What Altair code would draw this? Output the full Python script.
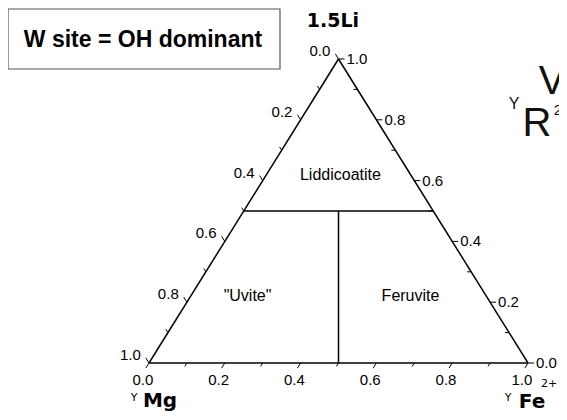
import altair as alt
import pandas as pd

# ---------------- data ----------------
# ternary axes: Li (top), Mg (bottom-left), Fe (bottom-right)
tick_values = [0.0, 0.1, 0.2, 0.3, 0.4, 0.5, 0.6, 0.7, 0.8, 0.9, 1.0]
major_values = [0.0, 0.2, 0.4, 0.6, 0.8, 1.0]
major_labels = ["0.0", "0.2", "0.4", "0.6", "0.8", "1.0"]

# triangle corners (Li, Mg, Fe)
corner_li = [1.0, 0.0, 0.0]
corner_mg = [0.0, 1.0, 0.0]
corner_fe = [0.0, 0.0, 1.0]

# field boundaries (Li, Mg, Fe) start -> end
bnd_li0 = [0.5, 0.5]
bnd_mg0 = [0.5, 0.25]
bnd_fe0 = [0.0, 0.25]
bnd_li1 = [0.5, 0.0]
bnd_mg1 = [0.0, 0.5]
bnd_fe1 = [0.5, 0.5]

# field names and their label positions (Li, Mg, Fe)
field_names = ["Liddicoatite", "\"Uvite\"", "Feruvite"]
field_li = [0.62, 0.22, 0.22]
field_mg = [0.185, 0.63, 0.20]
field_fe = [0.195, 0.15, 0.58]

box_text = "W site = OH dominant"

# ---------------- layout helpers ----------------
W, H = 551, 404          # plot area (page origin at 8,8)
PX, PY = 379.0, 304.0    # pixels per ternary unit (x, y)
X0, Y0 = 149.0, 363.0    # page position of the Mg corner
XDOM = [(8 - X0) / PX, (8 + W - X0) / PX]
YDOM = [(Y0 - 8 - H) / PY, (Y0 - 8) / PY]


def cart(li, mg, fe):
    return fe + 0.5 * li, li


def P(px, py):
    """page pixel -> data coordinates (for annotations)"""
    return (px - X0) / PX, (Y0 - py) / PY


xs = alt.Scale(domain=XDOM, nice=False, zero=False)
ys = alt.Scale(domain=YDOM, nice=False, zero=False)


def X(f="x"):
    return alt.X(f"{f}:Q", scale=xs, axis=None)


def Y(f="y"):
    return alt.Y(f"{f}:Q", scale=ys, axis=None)


# triangle edges + field boundaries
edges = []
for i in range(3):
    j = (i + 1) % 3
    x0, y0 = cart(corner_li[i], corner_mg[i], corner_fe[i])
    x1, y1 = cart(corner_li[j], corner_mg[j], corner_fe[j])
    edges.append(dict(x=x0, y=y0, x2=x1, y2=y1))
for k in range(len(bnd_li0)):
    x0, y0 = cart(bnd_li0[k], bnd_mg0[k], bnd_fe0[k])
    x1, y1 = cart(bnd_li1[k], bnd_mg1[k], bnd_fe1[k])
    edges.append(dict(x=x0, y=y0, x2=x1, y2=y1))
edges = pd.DataFrame(edges)

# ticks
ticks = []
labels_b, labels_l, labels_r = [], [], []
for v in tick_values:
    major = any(abs(v - m) < 1e-9 for m in major_values)
    L = 6.0 if major else 4.0
    x0, y0 = cart(0.0, 1 - v, v)          # bottom (Fe)
    ticks.append(dict(x=x0, y=y0, x2=x0 - 0.529 * L / PX, y2=y0 - 0.849 * L / PY))
    x0, y0 = cart(1 - v, v, 0.0)          # left (Mg)
    ticks.append(dict(x=x0, y=y0, x2=x0 - 0.529 * L / PX, y2=y0 + 0.849 * L / PY))
    x0, y0 = cart(v, 0.0, 1 - v)          # right (Li)
    if major:
        ticks.append(dict(x=x0, y=y0, x2=x0 + L / PX, y2=y0))
    else:
        ticks.append(dict(x=x0, y=y0, x2=x0 - L / PX, y2=y0))
ticks = pd.DataFrame(ticks)

for v, lab in zip(major_values, major_labels):
    x0, y0 = cart(0.0, 1 - v, v)
    labels_b.append(dict(x=x0 - 0.529 * 6 / PX, y=y0 - 0.849 * 6 / PY, t=lab))
    x0, y0 = cart(1 - v, v, 0.0)
    labels_l.append(dict(x=x0 - 0.529 * 6 / PX, y=y0 + 0.849 * 6 / PY, t=lab))
    x0, y0 = cart(v, 0.0, 1 - v)
    labels_r.append(dict(x=x0 + 6 / PX, y=y0, t=lab))
labels_b = pd.DataFrame(labels_b)
labels_l = pd.DataFrame(labels_l)
labels_r = pd.DataFrame(labels_r)

fields = pd.DataFrame(
    [dict(x=cart(a, b, c)[0], y=cart(a, b, c)[1], t=n)
     for n, a, b, c in zip(field_names, field_li, field_mg, field_fe)]
)

FONT = "Liberation Sans"
BOLD = "DejaVu Sans"

layers = []
layers.append(
    alt.Chart(edges).mark_rule(color="black", strokeWidth=1.5)
    .encode(x=X(), y=Y(), x2="x2:Q", y2="y2:Q")
)
layers.append(
    alt.Chart(ticks).mark_rule(color="black", strokeWidth=1)
    .encode(x=X(), y=Y(), x2="x2:Q", y2="y2:Q")
)
layers.append(
    alt.Chart(labels_b).mark_text(font=FONT, fontSize=15, align="center",
                                  baseline="top", dx=-3, dy=5, color="black")
    .encode(x=X(), y=Y(), text="t:N")
)
layers.append(
    alt.Chart(labels_l).mark_text(font=FONT, fontSize=15, align="right",
                                  baseline="middle", dx=-5, dy=-3, color="black")
    .encode(x=X(), y=Y(), text="t:N")
)
layers.append(
    alt.Chart(labels_r).mark_text(font=FONT, fontSize=15, align="left",
                                  baseline="middle", dx=2, dy=0, color="black")
    .encode(x=X(), y=Y(), text="t:N")
)
layers.append(
    alt.Chart(fields).mark_text(font=FONT, fontSize=16, align="center",
                                baseline="middle", color="black")
    .encode(x=X(), y=Y(), text="t:N")
)

# info box
bx0, by0 = P(8, 9)
bx1, by1 = P(280, 69)
tx, ty = P(143, 40)
box = pd.DataFrame([dict(x=bx0, x2=bx1, y=by0, y2=by1, tx=tx, ty=ty, t=box_text)])
layers.append(
    alt.Chart(box).mark_rect(fill="white", stroke="#555555", strokeWidth=1.2)
    .encode(x=X(), x2="x2:Q", y=Y(), y2="y2:Q")
)
layers.append(
    alt.Chart(box).mark_text(font=FONT, fontSize=23, fontWeight="bold",
                             align="center", baseline="middle", color="black")
    .encode(x=X("tx"), y=Y("ty"), text="t:N")
)

# corner titles
t_li = P(333, 21)
t_mg = P(160, 401)
t_fe = P(532, 402)
titles_bold = pd.DataFrame([
    dict(x=t_li[0], y=t_li[1], t="1.5Li", s=19),
    dict(x=t_mg[0], y=t_mg[1], t="Mg", s=20),
    dict(x=t_fe[0], y=t_fe[1], t="Fe", s=20),
])
layers.append(
    alt.Chart(titles_bold).mark_text(font=BOLD, fontWeight="bold",
                                     align="center", baseline="middle", color="black")
    .encode(x=X(), y=Y(), text="t:N",
            size=alt.Size("s:Q", scale=None, legend=None))
)
s1 = P(134, 398)
s2 = P(508, 398)
s3 = P(549, 384)
sups = pd.DataFrame([
    dict(x=s1[0], y=s1[1], t="Y", s=11),
    dict(x=s2[0], y=s2[1], t="Y", s=11),
    dict(x=s3[0], y=s3[1], t="2+", s=11),
])
layers.append(
    alt.Chart(sups).mark_text(font=BOLD, align="center",
                              baseline="middle", color="black")
    .encode(x=X(), y=Y(), text="t:N",
            size=alt.Size("s:Q", scale=None, legend=None))
)

# partially visible text at the right edge
e1 = P(552, 82)
e2 = P(537, 124)
e3 = P(514, 104)
e4 = P(558, 110)
edge_txt = pd.DataFrame([
    dict(x=e1[0], y=e1[1], t="V", s=40),
    dict(x=e2[0], y=e2[1], t="R", s=40),
    dict(x=e3[0], y=e3[1], t="Y", s=16),
    dict(x=e4[0], y=e4[1], t="2", s=15),
])
layers.append(
    alt.Chart(edge_txt).mark_text(font=FONT, align="center",
                                  baseline="middle", color="#111111")
    .encode(x=X(), y=Y(), text="t:N",
            size=alt.Size("s:Q", scale=None, legend=None))
)

chart = (
    alt.layer(*layers)
    .properties(width=W, height=H, padding=0,
                autosize=alt.AutoSizeParams(type="none"), background="white")
    .configure_view(stroke=None)
)

chart.save("out.html", embed_options={"renderer": "svg", "actions": False})
